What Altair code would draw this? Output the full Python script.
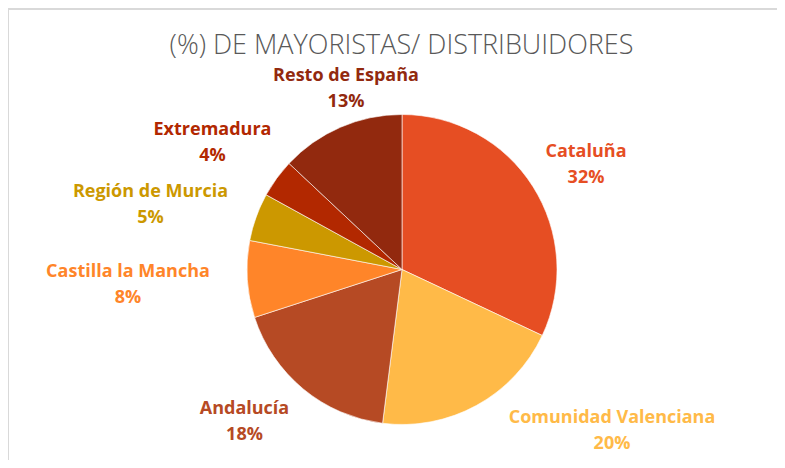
import altair as alt
import pandas as pd

# ---- data ----
regions = ["Cataluña", "Comunidad Valenciana", "Andalucía", "Castilla la Mancha",
           "Región de Murcia", "Extremadura", "Resto de España"]
shares = [32, 20, 18, 8, 5, 4, 13]
colors = ["#E64E23", "#FFBA48", "#B64A24", "#FF8529", "#CC9800", "#B22800", "#92290E"]
title_text = "(%) DE MAYORISTAS/ DISTRIBUIDORES"

# ---- label layout (pixel position of first label line inside the chart) ----
label_x = [578, 604, 236.5, 120, 142.5, 204.5, 338]
label_y = [144, 410, 401, 264, 184, 122, 68]

W, H = 769, 452
CX, CY, R = 394, 261.5, 155

df = pd.DataFrame({
    "region": regions,
    "share": shares,
    "order": list(range(len(regions))),
    "lx": label_x,
    "ly": label_y,
})
df["label"] = df["region"] + "\n" + df["share"].astype(str) + "%"

color_scale = alt.Scale(domain=regions, range=colors)

frame = alt.Chart(pd.DataFrame({"a": [0]})).mark_rect(
    fill=None, stroke="#D9D9D9", strokeWidth=2
).encode(
    x=alt.value(0), x2=alt.value(W + 20), y=alt.value(1), y2=alt.value(H + 20)
)

pie = alt.Chart(df).mark_arc(radius=R, stroke="#FFFFFF", strokeWidth=0.6).encode(
    theta=alt.Theta("share:Q", stack=True),
    order=alt.Order("order:Q"),
    color=alt.Color("region:N", scale=color_scale, legend=None),
    x=alt.value(CX),
    y=alt.value(CY),
)

labels = alt.Chart(df).mark_text(
    font="Open Sans", fontWeight="bold", fontSize=18, lineBreak="\n",
    lineHeight=25.5, align="center", baseline="middle"
).encode(
    x=alt.X("lx:Q", scale=None, axis=None),
    y=alt.Y("ly:Q", scale=None, axis=None),
    text="label:N",
    color=alt.Color("region:N", scale=color_scale, legend=None),
)

title = alt.Chart(pd.DataFrame({"t": [title_text]})).mark_text(
    font="Open Sans", fontWeight=300, fontSize=27, color="#595959",
    align="center", baseline="middle"
).encode(
    x=alt.value(393.5), y=alt.value(38), text="t:N"
)

chart = alt.layer(frame, pie, labels, title).properties(
    width=W, height=H, padding=0, autosize=alt.AutoSizeParams(type="none")
).configure_view(stroke=None)

chart.save("out.html", embed_options={"renderer": "svg", "actions": False})
